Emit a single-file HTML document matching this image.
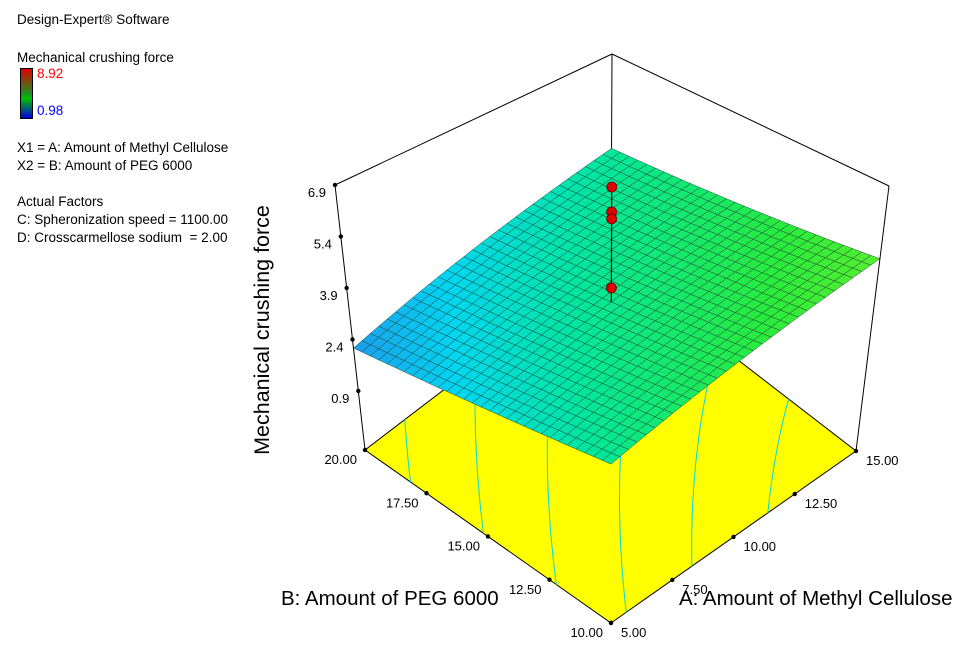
<!DOCTYPE html>
<html><head><meta charset="utf-8">
<style>
html,body{margin:0;padding:0;background:#fff;}
body{width:963px;height:647px;overflow:hidden;position:relative;font-family:"Liberation Sans",sans-serif;}
.t{position:absolute;font-size:13.5px;color:#000;white-space:nowrap;}
#cb{position:absolute;left:20px;top:68px;width:11px;height:49px;border:1px solid #000;background:linear-gradient(#e00000,#209020 50%,#00c000 60%,#0000e0);}
svg{position:absolute;left:0;top:0;}
</style></head><body>
<div class="t" style="left:17px;top:12px">Design-Expert® Software</div>
<div class="t" style="left:17px;top:50px">Mechanical crushing force</div>
<div id="cb"></div>
<div class="t" style="left:37px;top:66px;color:#f00">8.92</div>
<div class="t" style="left:37px;top:103px;color:#00f">0.98</div>
<div class="t" style="left:17px;top:140px">X1 = A: Amount of Methyl Cellulose</div>
<div class="t" style="left:17px;top:158px">X2 = B: Amount of PEG 6000</div>
<div class="t" style="left:17px;top:194px">Actual Factors</div>
<div class="t" style="left:17px;top:212px">C: Spheronization speed = 1100.00</div>
<div class="t" style="left:17px;top:230px">D: Crosscarmellose sodium&nbsp; = 2.00</div>
<svg id="chart" width="963" height="647"></svg>
<script>
// data
const aTicks=[5,7.5,10,12.5,15];
const bTicks=[10,12.5,15,17.5,20];
const zTicks=[0.9,2.4,3.9,5.4,6.9];
const cornerZ=[3.5,4.78,3.4,2.15]; // [A5B10, A15B10, A15B20, A5B20]
const curveK=[0.35];
const designA=[10,10,10,10];
const designB=[15,15,15,15];
const designZ=[7.02,6.27,6.06,3.97];
const contourLevels=[2.4,2.8,3.2,3.6,4.0,4.4];

const NS="http://www.w3.org/2000/svg";
const svg=document.getElementById('chart');
const zMin=-0.82,zMax=6.9;
const floorC=[[611,623],[856,451],[611,262],[365,450]];
const topC=[[611,339],[889,186],[612,54],[335,185]];
function bil(c,u,v){return [c[0][0]*(1-u)*(1-v)+c[1][0]*u*(1-v)+c[2][0]*u*v+c[3][0]*(1-u)*v,
 c[0][1]*(1-u)*(1-v)+c[1][1]*u*(1-v)+c[2][1]*u*v+c[3][1]*(1-u)*v];}
function P(a,b,z){const u=(a-5)/10,v=(b-10)/10,w=(z-zMin)/(zMax-zMin);
 const f=bil(floorC,u,v),t=bil(topC,u,v);return [f[0]+(t[0]-f[0])*w,f[1]+(t[1]-f[1])*w];}
function Z(a,b){const u=(a-5)/10,v=(b-10)/10;
 return cornerZ[0]*(1-u)*(1-v)+cornerZ[1]*u*(1-v)+cornerZ[2]*u*v+cornerZ[3]*(1-u)*v+curveK[0]*u*(1-u);}
function mk(tag,at){const e=document.createElementNS(NS,tag);for(const k in at)e.setAttribute(k,at[k]);svg.appendChild(e);return e;}
function pts(a){return a.map(p=>p[0].toFixed(1)+','+p[1].toFixed(1)).join(' ');}
function colorOf(z){const t=(z-0.98)/(8.92-0.98);
 const s=[[0,0,0,255],[0.14,30,150,235],[0.22,0,215,240],[0.3,0,230,160],[0.42,40,235,60],[0.7,255,255,0],[1,255,0,0]];
 for(let i=1;i<s.length;i++){if(t<=s[i][0]){const f=(t-s[i-1][0])/(s[i][0]-s[i-1][0]);
  return 'rgb('+[1,2,3].map(k=>Math.round(s[i-1][k]+(s[i][k]-s[i-1][k])*f)).join(',')+')';}}return 'rgb(255,0,0)';}

// floor
let fl=mk('polygon',{points:pts([P(5,10,zMin),P(15,10,zMin),P(15,20,zMin),P(5,20,zMin)]),fill:'#ffff00',stroke:'#000','stroke-width':1});


// floor contours (marching squares)
const N=40;
contourLevels.forEach(L=>{
 let d='';
 for(let i=0;i<N;i++)for(let j=0;j<N;j++){
  const a0=5+10*i/N,a1=5+10*(i+1)/N,b0=10+10*j/N,b1=10+10*(j+1)/N;
  const c=[[a0,b0],[a1,b0],[a1,b1],[a0,b1]];const zs=c.map(q=>Z(q[0],q[1]));
  const cr=[];for(let k=0;k<4;k++){const k2=(k+1)%4;if((zs[k]-L)*(zs[k2]-L)<0){const f=(L-zs[k])/(zs[k2]-zs[k]);
   cr.push(P(c[k][0]+(c[k2][0]-c[k][0])*f,c[k][1]+(c[k2][1]-c[k][1])*f,zMin));}}
  if(cr.length>=2)d+='M'+cr[0][0].toFixed(1)+','+cr[0][1].toFixed(1)+'L'+cr[1][0].toFixed(1)+','+cr[1][1].toFixed(1);
 }
 const c=mk('path',{d:d,stroke:'#00d8e8','stroke-width':1,fill:'none'});
 
 
});
// box back edges
[[P(5,20,zMax),P(15,20,zMax)],[P(15,20,zMax),P(15,10,zMax)],[P(15,20,zMin),P(15,20,zMax)]].forEach(s=>{
 const l=mk('line',{x1:s[0][0],y1:s[0][1],x2:s[1][0],y2:s[1][1],stroke:'#000','stroke-width':1});
 
 
});
// surface
const M=30,cells=[];
for(let i=0;i<M;i++)for(let j=0;j<M;j++)cells.push([i,j]);
cells.sort((p,q)=>(q[0]+q[1])-(p[0]+p[1]));
const g=mk('g',{});


cells.forEach(([i,j])=>{
 const a0=5+10*i/M,a1=5+10*(i+1)/M,b0=10+10*j/M,b1=10+10*(j+1)/M;
 const q=[[a0,b0],[a1,b0],[a1,b1],[a0,b1]];
 const zc=Z((a0+a1)/2,(b0+b1)/2);
 const p=document.createElementNS(NS,'polygon');
 p.setAttribute('points',pts(q.map(r=>P(r[0],r[1],Z(r[0],r[1])))));
 p.setAttribute('fill',colorOf(zc));p.setAttribute('stroke','#204030');p.setAttribute('stroke-width','0.45');
 
 
 g.appendChild(p);
});
// design points
const zs0=Z(designA[0],designB[0]);
const dTop=P(designA[0],designB[0],Math.max(...designZ)),dBot=P(designA[0],designB[0],zs0);
let dl=mk('line',{x1:dTop[0],y1:dTop[1],x2:dBot[0],y2:dBot[1],stroke:'#000','stroke-width':1.2});


designZ.forEach((z,k)=>{const p=P(designA[k],designB[k],z);
 const c=mk('circle',{cx:p[0],cy:p[1],r:5,fill:'#e00000',stroke:'#600','stroke-width':0.8});
 
 
});
// front verticals
[[P(5,20,zMin),P(5,20,zMax)],[P(15,10,zMin),P(15,10,zMax)]].forEach(s=>{
 const l=mk('line',{x1:s[0][0],y1:s[0][1],x2:s[1][0],y2:s[1][1],stroke:'#000','stroke-width':1});
 
 
});
function txt(x,y,s,anchor,size,name){const t=mk('text',{x:x,y:y,'text-anchor':anchor,'font-size':size,'font-family':'Liberation Sans, sans-serif',fill:'#000'});t.textContent=s;
 
 return t;}
function dot(p,name){const c=mk('circle',{cx:p[0],cy:p[1],r:2.2,fill:'#000'});
 
 }
zTicks.forEach(z=>{const p=P(5,20,z);dot(p,'z-tick');txt(p[0]-9,p[1]+12,z.toFixed(1),'end',13,'z-tick-label');});
bTicks.forEach(b=>{const p=P(5,b,zMin);dot(p,'b-tick');txt(p[0]-8,p[1]+14,b.toFixed(2),'end',13,'b-tick-label');});
aTicks.forEach(a=>{const p=P(a,10,zMin);dot(p,'a-tick');txt(p[0]+10,p[1]+14,a.toFixed(2),'start',13,'a-tick-label');});
txt(281,605,'B: Amount of PEG 6000','start',20.5,'b-axis-title');
txt(679,605,'A: Amount of Methyl Cellulose','start',20.5,'a-axis-title');
const zt=txt(0,0,'Mechanical crushing force','middle',21.5,'z-axis-title');
zt.setAttribute('transform','translate(269,330) rotate(-90)');
</script>
</body></html>
